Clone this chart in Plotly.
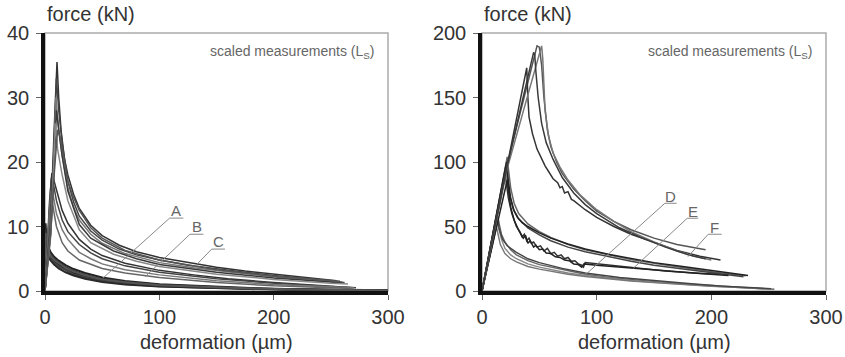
import plotly.graph_objects as go

# ---------------- left panel data (force kN vs deformation um) ----------------
A_x = [0, 0.5, 1, 2, 3, 5, 8, 12, 18, 25, 35, 50, 70, 100, 140, 180, 220, 260, 300]
A1_y = [0, 10.5, 9.0, 7.6, 6.8, 6.0, 5.3, 4.7, 4.0, 3.4, 2.8, 2.1, 1.55, 1.05, 0.7, 0.45, 0.28, 0.17, 0.1]
A2_y = [0, 9.5, 8.2, 7.0, 6.3, 5.6, 5.0, 4.4, 3.7, 3.1, 2.5, 1.9, 1.4, 0.95, 0.62, 0.4, 0.25, 0.15, 0.08]
A3_y = [0, 8.5, 7.4, 6.5, 5.9, 5.3, 4.7, 4.1, 3.4, 2.8, 2.3, 1.7, 1.25, 0.85, 0.55, 0.35, 0.22, 0.13, 0.07]
A4_y = [0, 7.5, 6.8, 6.0, 5.5, 5.0, 4.4, 3.8, 3.2, 2.6, 2.1, 1.55, 1.1, 0.75, 0.5, 0.32, 0.2, 0.12, 0.06]
A5_y = [0, 6.5, 6.0, 5.6, 5.2, 4.7, 4.1, 3.5, 2.9, 2.4, 1.9, 1.4, 1.0, 0.68, 0.45, 0.3, 0.18, 0.1, 0.05]
A6_y = [0, 9.0, 7.8, 6.8, 6.1, 5.45, 4.85, 4.3, 3.6, 3.0, 2.45, 1.8, 1.35, 0.9, 0.6, 0.38, 0.24, 0.14, 0.08]

B1_x = [0, 2, 4, 6, 8, 10, 15, 20, 30, 40, 50, 70, 100, 130, 160, 200, 240, 270]
B1_y = [0, 8, 14, 18.3, 17, 15.5, 12.5, 10.5, 8, 6.5, 5.5, 4.3, 3.2, 2.5, 1.9, 1.3, 0.8, 0.5]
B2_x = [0, 2, 4, 5.5, 8, 10, 15, 20, 30, 40, 50, 70, 100, 150, 200, 250, 272]
B2_y = [0, 7.5, 13, 17.5, 16, 14, 11, 9.2, 7.2, 5.9, 5.0, 3.9, 2.9, 1.9, 1.2, 0.7, 0.5]
B3_x = [0, 2, 4, 6, 8, 10, 15, 20, 30, 40, 50, 70, 100, 150, 200, 250, 270]
B3_y = [0, 7, 12, 16, 14, 12, 9.5, 8, 6, 5, 4.2, 3.3, 2.5, 1.6, 1.0, 0.6, 0.5]
B4_x = [0, 2, 3.5, 5, 8, 10, 15, 20, 30, 50, 70, 100, 150, 200, 250, 268]
B4_y = [0, 6.5, 11, 15.5, 12, 10, 7.5, 6.2, 4.8, 3.5, 2.8, 2.1, 1.3, 0.8, 0.5, 0.4]

C1_x = [0, 2, 5, 8, 10.5, 12, 14, 17, 20, 25, 30, 40, 50, 65, 80, 100, 125, 150, 175, 200, 225, 255]
C1_y = [0, 4.5, 11, 25, 35.5, 30, 25, 20.5, 18, 15, 12.8, 10.2, 8.6, 7.1, 6.1, 5.2, 4.4, 3.7, 3.1, 2.6, 2.1, 1.6]
C2_x = [0, 2, 5, 8, 10, 12, 15, 20, 25, 30, 40, 50, 65, 80, 100, 125, 150, 175, 200, 225, 260]
C2_y = [0, 4.2, 10, 23, 33, 28, 23, 17, 13.8, 11.6, 9.3, 7.9, 6.5, 5.6, 4.8, 4.0, 3.4, 2.9, 2.4, 2.0, 1.4]
C3_x = [0, 2, 5, 8, 9.5, 12, 15, 20, 25, 30, 40, 50, 70, 100, 130, 160, 200, 240, 262]
C3_y = [0, 4, 9.5, 21, 30, 25, 21, 16, 13, 11, 8.8, 7.4, 5.8, 4.4, 3.6, 3.0, 2.2, 1.6, 1.3]
C4_x = [0, 2, 5, 8, 10, 12, 15, 20, 30, 40, 60, 80, 100, 150, 200, 250, 262]
C4_y = [0, 4, 9, 19, 28, 25, 21, 15.5, 10.3, 8.2, 6.2, 5.0, 4.1, 2.9, 2.0, 1.4, 1.2]
C5_x = [0, 2, 5, 7, 9, 11, 15, 20, 30, 40, 60, 80, 100, 150, 200, 250, 265]
C5_y = [0, 3.8, 8.5, 16, 26, 22, 18, 14, 9.5, 7.5, 5.7, 4.6, 3.8, 2.6, 1.8, 1.2, 1.1]
C6_x = [0, 2, 5, 8, 11, 13, 15, 20, 25, 30, 40, 50, 70, 100, 150, 200, 258]
C6_y = [0, 4, 9, 18, 25, 24, 22, 17, 14.5, 12.5, 9.8, 8.2, 6.3, 4.8, 3.3, 2.3, 1.5]

# ---------------- right panel data ----------------
D1_x = [0, 14, 15, 17, 20, 25, 30, 40, 50, 60, 75, 90, 110, 130, 150, 175, 200, 225, 250, 255]
D1_y = [0, 57, 52, 44, 38, 32, 28, 23.5, 20.5, 18.5, 15.5, 13, 10.5, 8.8, 7.3, 5.7, 4.2, 2.8, 1.6, 1.3]
D2_x = [0, 13.5, 15, 17, 20, 25, 30, 40, 50, 60, 75, 90, 110, 130, 150, 175, 200, 225, 250]
D2_y = [0, 54, 47, 40, 33, 28, 25, 21, 18.5, 16.5, 14, 12, 9.8, 8.1, 6.8, 5.2, 3.8, 2.6, 1.5]
D3_x = [0, 12.5, 14, 16, 20, 25, 30, 40, 50, 60, 75, 90, 110, 130, 150, 175, 200, 225, 245]
D3_y = [0, 50, 44, 36, 29, 25, 22.5, 19, 17, 15.2, 13, 11.2, 9.3, 7.8, 6.5, 5.0, 3.7, 2.6, 1.8]
D4_x = [0, 14, 15, 18, 22, 30, 40, 50, 70, 90, 120, 150, 180, 210, 240, 252]
D4_y = [0, 56, 48, 40, 35, 30, 25, 22, 17.5, 14, 10.5, 8, 5.8, 3.8, 2.3, 1.8]

E1_x = [0, 22, 23, 25, 28, 32, 40, 50, 60, 75, 90, 110, 130, 150, 175, 200, 220, 230]
E1_y = [0, 104, 95, 80, 68, 60, 52, 46, 41.5, 36, 32, 28, 24.5, 21.5, 18, 15, 12.8, 11.8]
E2_x = [0, 21, 22, 24, 27, 32, 40, 50, 60, 75, 90, 110, 130, 150, 175, 200, 225, 228]
E2_y = [0, 98, 88, 75, 64, 56, 49, 43.5, 39, 34, 30.5, 26.5, 23, 20, 17, 14, 11.5, 11]
E3_x = [0, 20, 21, 23, 26, 30, 33, 35, 37, 39, 41, 43, 45, 48, 51, 54, 57, 60, 63, 66, 69, 72, 75, 78, 81, 84, 87, 88.5, 90, 100, 120, 140, 160, 185, 205]
E3_y = [0, 92, 85, 72, 60, 50, 46, 42, 44, 39, 41, 37, 38, 34, 35, 31, 33, 29, 30, 27, 28, 25, 26, 23, 23.5, 21, 20, 18.5, 22, 21, 19, 17, 15.5, 14, 13]
E4_x = [0, 22, 23, 25, 28, 32, 36, 38, 40, 42, 45, 47, 50, 53, 56, 60, 64, 68, 72, 76, 80, 84, 87, 89, 100, 120, 140, 160, 190, 215]
E4_y = [0, 86, 78, 65, 55, 47, 41, 43, 37, 39, 34, 35.5, 32, 32.5, 29.5, 29, 26.5, 26, 24, 23.5, 21, 20.5, 18.5, 21, 20, 18.5, 17, 15.5, 13.5, 12]
E5_x = [0, 21.5, 23, 25, 28, 31, 35, 40, 50, 60, 75, 90, 110, 130, 150, 175, 200, 220, 232]
E5_y = [0, 100, 85, 72, 62, 57, 53, 50, 45, 41, 36.5, 32.5, 28.5, 25, 22, 19, 16, 13.5, 12]

F1_x = [0, 22, 48, 50, 52, 54, 57, 60, 65, 70, 80, 90, 100, 115, 130, 150, 170, 185, 195]
F1_y = [0, 98, 190, 189, 175, 150, 125, 112, 100, 91, 79, 70, 62, 54, 47.5, 41, 36, 33.5, 32]
F2_x = [0, 22, 39, 40, 41, 44, 48, 55, 62, 66, 68, 70, 72, 75, 78, 80, 90, 100, 115, 130, 150, 170, 190, 208]
F2_y = [0, 96, 173, 150, 135, 122, 110, 97, 87, 84, 80, 81, 76, 77, 71, 70, 63, 57, 50, 44, 37.5, 31.5, 27, 24]
F3_x = [0, 22, 52, 53, 54, 55, 58, 62, 68, 75, 85, 100, 115, 130, 150, 170, 185, 200]
F3_y = [0, 95, 190, 180, 160, 140, 120, 107, 96, 86, 75, 63, 54, 46, 38, 31, 27, 24]
F4_x = [0, 22, 45, 46, 47, 49, 52, 56, 62, 70, 80, 90, 100, 120, 140, 160, 180, 195]
F4_y = [0, 97, 185, 183, 170, 150, 130, 115, 102, 88, 76, 67, 60, 49, 41, 34, 28, 25]

# ---------------- curve labels (leader lines) ----------------
left_labels = ["A", "B", "C"]
left_lead_x = [[50.7, 109, 121], [87.5, 126.8, 138.5], [131, 145.8, 157.4]]
left_lead_y = [[2.0, 11.3, 11.3], [2.2, 8.8, 8.8], [3.8, 6.5, 6.5]]
right_labels = ["D", "E", "F"]
right_lead_x = [[88.3, 159.5, 169.7], [131.9, 179, 188.6], [179.6, 197.3, 209]]
right_lead_y = [[11.1, 68, 68], [17.6, 56.4, 56.4], [26.6, 44, 44]]

x_ticks = [0, 100, 200, 300]
left_y_ticks = [0, 10, 20, 30, 40]
right_y_ticks = [0, 50, 100, 150, 200]

FONT = "Liberation Sans, Arial, sans-serif"

fig = go.Figure()


def add(x, y, color, width, ax):
    fig.add_trace(go.Scatter(x=x, y=y, mode="lines",
                             line=dict(color=color, width=width),
                             xaxis="x" if ax == 1 else "x2",
                             yaxis="y" if ax == 1 else "y2",
                             showlegend=False, hoverinfo="skip"))


# left panel
for yv, c in [(A1_y, "#222"), (A2_y, "#333"), (A3_y, "#1a1a1a"),
              (A4_y, "#444"), (A5_y, "#2a2a2a"), (A6_y, "#555")]:
    add(A_x, yv, c, 2, 1)
for xv, yv, c in [(B1_x, B1_y, "#333"), (B2_x, B2_y, "#444"),
                  (B3_x, B3_y, "#777"), (B4_x, B4_y, "#666")]:
    add(xv, yv, c, 1.5, 1)
for xv, yv, c in [(C1_x, C1_y, "#333"), (C2_x, C2_y, "#444"), (C3_x, C3_y, "#777"),
                  (C4_x, C4_y, "#3a3a3a"), (C5_x, C5_y, "#888"), (C6_x, C6_y, "#555")]:
    add(xv, yv, c, 1.5, 1)

# right panel
for xv, yv, c in [(D1_x, D1_y, "#666"), (D2_x, D2_y, "#888"),
                  (D3_x, D3_y, "#777"), (D4_x, D4_y, "#444")]:
    add(xv, yv, c, 1.4, 2)
for xv, yv, c in [(E1_x, E1_y, "#666"), (E2_x, E2_y, "#444"), (E3_x, E3_y, "#333"),
                  (E4_x, E4_y, "#222"), (E5_x, E5_y, "#222")]:
    add(xv, yv, c, 1.5, 2)
for xv, yv, c in [(F1_x, F1_y, "#555"), (F2_x, F2_y, "#333"),
                  (F3_x, F3_y, "#777"), (F4_x, F4_y, "#3a3a3a")]:
    add(xv, yv, c, 1.5, 2)

annotations = []
for lab, lx, ly in zip(left_labels, left_lead_x, left_lead_y):
    add(lx, ly, "#888", 1, 1)
    annotations.append(dict(x=(lx[1] + lx[2]) / 2, y=ly[1] + 1.15, xref="x", yref="y",
                            text=lab, showarrow=False, xanchor="center", yanchor="middle",
                            font=dict(size=15, color="#666", family=FONT)))
for lab, lx, ly in zip(right_labels, right_lead_x, right_lead_y):
    add(lx, ly, "#888", 1, 2)
    annotations.append(dict(x=(lx[1] + lx[2]) / 2, y=ly[1] + 5.6, xref="x2", yref="y2",
                            text=lab, showarrow=False, xanchor="center", yanchor="middle",
                            font=dict(size=15, color="#666", family=FONT)))

for xr, yr in [("x", "y"), ("x2", "y2")]:
    annotations.append(dict(x=0.968, y=0.925, xref=xr + " domain", yref=yr + " domain",
                            text="scaled measurements (L<sub>S</sub>)", showarrow=False,
                            xanchor="right", yanchor="middle",
                            font=dict(size=14, color="#666", family=FONT)))
    annotations.append(dict(x=0, y=1 - 14 / 357, xref=xr + " domain", yref="paper",
                            text="force (kN)", showarrow=False, xanchor="left", yanchor="middle",
                            font=dict(size=20, color="#333", family=FONT)))
    annotations.append(dict(x=0.5, y=1 - 342 / 357, xref=xr + " domain", yref="paper",
                            text="deformation (µm)", showarrow=False, xanchor="center",
                            yanchor="middle", font=dict(size=20, color="#333", family=FONT)))

shapes = [dict(type="rect", xref=xr + " domain", yref=yr + " domain", x0=0, x1=1, y0=0, y1=1,
               line=dict(color="#aaa", width=1.5), layer="below")
          for xr, yr in [("x", "y"), ("x2", "y2")]]

axis_common = dict(showline=True, linewidth=3.5, linecolor="#111", ticks="outside",
                   ticklen=5, tickwidth=1, tickcolor="#666", showgrid=False, zeroline=False,
                   automargin=False,
                   tickfont=dict(size=20, color="#333", family=FONT))

y_dom = [1 - 291 / 357, 1 - 33 / 357]
fig.update_layout(
    width=845, height=357,
    margin=dict(l=0, r=0, t=0, b=0, autoexpand=False),
    paper_bgcolor="white", plot_bgcolor="white",
    xaxis=dict(domain=[45 / 845, 388 / 845], range=[0, 300], tickvals=x_ticks,
               anchor="y", **axis_common),
    yaxis=dict(domain=y_dom, range=[0, 40], tickvals=left_y_ticks, anchor="x",
               ticklabelstandoff=3, **axis_common),
    xaxis2=dict(domain=[482 / 845, 826 / 845], range=[0, 300], tickvals=x_ticks,
                anchor="y2", **axis_common),
    yaxis2=dict(domain=y_dom, range=[0, 200], tickvals=right_y_ticks, anchor="x2",
                ticklabelstandoff=3, **axis_common),
    annotations=annotations, shapes=shapes,
)

fig.write_html("out.html", config={"displayModeBar": False},
               post_script="document.body.style.margin='0';document.body.style.overflow='hidden';")
